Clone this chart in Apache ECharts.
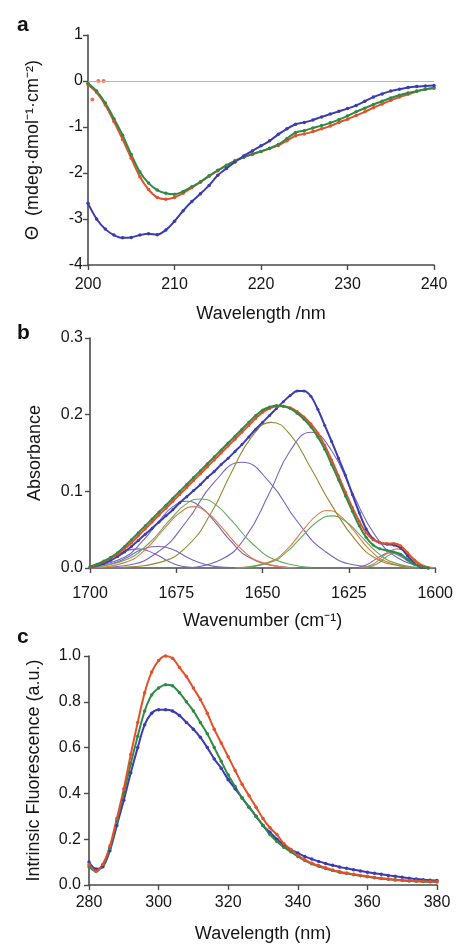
<!DOCTYPE html>
<html><head><meta charset="utf-8">
<script src="https://cdn.jsdelivr.net/npm/echarts@6/dist/echarts.min.js"></script>
<style>html,body{margin:0;padding:0;background:#fff}#c{width:456px;height:944px}</style>
</head><body><div id="c"></div>
<script>
// ---------- Panel a : CD spectra ----------
const aWl = [200,201,202,203,204,205,206,207,208,209,210,211,212,213,214,215,216,217,218,219,220,221,222,223,224,225,226,227,228,229,230,231,232,233,234,235,236,237,238,239,240];
const aRed = [-0.08,-0.25,-0.52,-0.88,-1.27,-1.68,-2.08,-2.36,-2.53,-2.57,-2.53,-2.44,-2.32,-2.20,-2.07,-1.95,-1.83,-1.73,-1.65,-1.59,-1.53,-1.47,-1.40,-1.30,-1.19,-1.15,-1.10,-1.04,-0.98,-0.90,-0.83,-0.75,-0.67,-0.58,-0.50,-0.42,-0.35,-0.29,-0.23,-0.18,-0.15];
const aGreen = [-0.05,-0.22,-0.48,-0.82,-1.18,-1.60,-1.98,-2.22,-2.37,-2.44,-2.46,-2.40,-2.30,-2.19,-2.06,-1.94,-1.84,-1.74,-1.66,-1.59,-1.53,-1.46,-1.38,-1.25,-1.12,-1.08,-1.02,-0.97,-0.91,-0.84,-0.76,-0.67,-0.59,-0.51,-0.44,-0.37,-0.31,-0.26,-0.22,-0.18,-0.15];
const aBlue = [-2.66,-3.00,-3.22,-3.35,-3.41,-3.40,-3.35,-3.32,-3.34,-3.24,-3.05,-2.82,-2.62,-2.45,-2.27,-2.05,-1.90,-1.76,-1.63,-1.52,-1.41,-1.30,-1.16,-1.04,-0.94,-0.90,-0.85,-0.78,-0.72,-0.66,-0.60,-0.53,-0.44,-0.35,-0.28,-0.22,-0.18,-0.14,-0.12,-0.11,-0.10];
const aRedStray = [[200.5,-0.40],[201.2,0.0],[201.8,0.0]];
const aTicksX = [200,240,10];
const aTicksY = [-4,1,1];

// ---------- Panel b : FTIR amide I ----------
const bWn = [1700,1698,1696,1694,1692,1690,1688,1686,1684,1682,1680,1678,1676,1674,1672,1670,1668,1666,1664,1662,1660,1658,1656,1654,1652,1650,1648,1646,1644,1642,1640,1638,1636,1634,1632,1630,1628,1626,1624,1622,1620,1618,1616,1614,1612,1610,1608,1606,1604,1602];
const bGreen = [0.002,0.005,0.009,0.014,0.020,0.028,0.037,0.046,0.055,0.064,0.073,0.082,0.091,0.100,0.109,0.118,0.127,0.136,0.145,0.154,0.163,0.172,0.181,0.190,0.199,0.206,0.210,0.212,0.211,0.208,0.202,0.194,0.184,0.171,0.155,0.135,0.115,0.094,0.074,0.055,0.040,0.030,0.025,0.023,0.021,0.018,0.011,0.005,0.002,0.000];
const bRed = [0.001,0.004,0.008,0.013,0.018,0.025,0.033,0.042,0.051,0.060,0.069,0.078,0.087,0.096,0.105,0.114,0.123,0.132,0.141,0.150,0.159,0.168,0.177,0.186,0.195,0.203,0.208,0.211,0.211,0.209,0.204,0.197,0.188,0.176,0.160,0.141,0.120,0.099,0.079,0.061,0.046,0.037,0.033,0.032,0.032,0.029,0.020,0.010,0.003,0.000];
const bBlue = [0.001,0.003,0.006,0.010,0.015,0.021,0.028,0.036,0.044,0.052,0.060,0.068,0.076,0.085,0.093,0.101,0.109,0.118,0.126,0.135,0.143,0.152,0.161,0.171,0.181,0.190,0.199,0.208,0.217,0.225,0.231,0.231,0.224,0.207,0.186,0.165,0.143,0.121,0.096,0.072,0.051,0.038,0.033,0.031,0.030,0.026,0.016,0.006,0.001,0.000];
// fitted components [wavenumber, absorbance]
const compPurple1 = [[1700,0.002],[1696,0.008],[1692,0.018],[1686,0.025],[1681,0.018],[1677,0.008],[1673,0.002],[1666,0.000]];
const compPurple2 = [[1700,0.001],[1695,0.004],[1690,0.012],[1685,0.024],[1680,0.028],[1676,0.024],[1671,0.012],[1666,0.004],[1661,0.001],[1654,0.000]];
const compPurple3 = [[1700,0.001],[1690,0.014],[1685,0.034],[1680,0.061],[1676,0.080],[1672,0.087],[1668,0.080],[1664,0.061],[1659,0.034],[1654,0.014],[1645,0.002],[1638,0.000]];
const compPurple4 = [[1700,0.000],[1690,0.003],[1680,0.022],[1672,0.061],[1664,0.112],[1656,0.138],[1648,0.112],[1640,0.061],[1632,0.022],[1622,0.003],[1612,0.000]];
const compPurple5 = [[1672,0.000],[1662,0.011],[1655,0.040],[1648,0.098],[1642,0.153],[1636,0.177],[1630,0.153],[1624,0.098],[1617,0.040],[1610,0.011],[1602,0.001]];
const compPurple6 = [[1624,0.000],[1620,0.004],[1616,0.015],[1613,0.020],[1610,0.015],[1606,0.004],[1601,0.000]];
const compOrange1 = [[1700,0.000],[1690,0.007],[1684,0.024],[1678,0.054],[1674,0.072],[1670,0.080],[1666,0.072],[1662,0.054],[1656,0.024],[1650,0.007],[1640,0.000]];
const compOrange2 = [[1658,0.000],[1648,0.008],[1643,0.024],[1638,0.051],[1634,0.070],[1631,0.075],[1628,0.070],[1624,0.051],[1619,0.024],[1614,0.008],[1606,0.000]];
const compOrange3 = [[1622,0.000],[1618,0.005],[1614,0.019],[1611,0.025],[1608,0.019],[1604,0.005],[1600,0.000]];
const compGreen1 = [[1700,0.001],[1690,0.010],[1683,0.032],[1677,0.062],[1672,0.084],[1668,0.090],[1664,0.084],[1659,0.062],[1653,0.032],[1646,0.010],[1636,0.001]];
const compGreen2 = [[1658,0.000],[1648,0.007],[1643,0.021],[1638,0.044],[1634,0.061],[1630,0.068],[1626,0.061],[1622,0.044],[1617,0.021],[1612,0.007],[1605,0.001]];
const compGreen3 = [[1621,0.000],[1617,0.005],[1614,0.015],[1612,0.019],[1609,0.015],[1605,0.004],[1601,0.000]];
const compOlive = [[1695,0.000],[1690,0.001],[1680,0.007],[1672,0.028],[1665,0.071],[1659,0.125],[1653,0.172],[1647.5,0.190],[1642,0.174],[1636,0.130],[1630,0.082],[1623,0.036],[1617,0.012],[1610,0.003],[1603,0.000]];

// ---------- Panel c : intrinsic fluorescence ----------
const cWl = [280,282,284,286,288,290,292,294,296,298,300,302,304,306,308,310,312,314,316,318,320,322,324,326,328,330,332,334,336,338,340,342,344,346,348,350,352,354,356,358,360,362,364,366,368,370,372,374,376,378,380];
const cRed = [0.09,0.06,0.09,0.17,0.29,0.42,0.57,0.71,0.84,0.93,0.98,1.00,0.99,0.95,0.91,0.86,0.81,0.75,0.68,0.62,0.56,0.50,0.44,0.39,0.34,0.29,0.25,0.22,0.18,0.155,0.13,0.11,0.095,0.085,0.075,0.065,0.058,0.052,0.047,0.042,0.038,0.033,0.029,0.026,0.023,0.021,0.019,0.017,0.016,0.015,0.015];
const cGreen = [0.08,0.06,0.09,0.16,0.28,0.40,0.53,0.65,0.76,0.83,0.86,0.875,0.87,0.84,0.80,0.76,0.71,0.66,0.60,0.54,0.48,0.43,0.38,0.34,0.30,0.26,0.22,0.19,0.165,0.145,0.125,0.107,0.093,0.082,0.072,0.063,0.056,0.050,0.045,0.040,0.036,0.032,0.028,0.025,0.022,0.020,0.018,0.016,0.015,0.014,0.013];
const cBlue = [0.10,0.07,0.08,0.15,0.26,0.37,0.49,0.60,0.70,0.75,0.765,0.765,0.76,0.74,0.71,0.68,0.645,0.60,0.55,0.51,0.46,0.42,0.38,0.34,0.30,0.26,0.23,0.20,0.175,0.155,0.14,0.125,0.113,0.103,0.094,0.086,0.079,0.073,0.067,0.061,0.056,0.051,0.047,0.042,0.038,0.034,0.030,0.026,0.023,0.021,0.020];

const RED = '#e4502c', GREEN = '#2f8a45', BLUE = '#3a3cb0';
const PURPLE = '#7565c0', ORANGE = '#e77a45', LGREEN = '#5fae5a', OLIVE = '#9a8735';
const FONT = '"Liberation Sans", Arial, sans-serif';

const zip = (xs, ys) => xs.map((x, i) => [x, ys[i]]);

const axisCommon = {
  axisLine: { onZero: false, lineStyle: { color: '#4a4a4a', width: 1.6 } },
  axisTick: { length: 5, lineStyle: { color: '#4a4a4a', width: 1.4 } },
  splitLine: { show: false },
  nameTextStyle: { color: '#151515', fontSize: 18, fontFamily: FONT },
  nameLocation: 'middle'
};
function lbl(margin, fmt) {
  const o = { color: '#151515', fontSize: 16, fontFamily: FONT, margin: margin };
  if (fmt) o.formatter = fmt;
  return o;
}
function xAx(grid, r, name, margin, extra) {
  return Object.assign({}, axisCommon, { type: 'value', gridIndex: grid, min: r[0], max: r[1], interval: r[2],
    name: name, nameGap: 40, axisLabel: lbl(margin, v => String(v)) }, extra || {});
}
function yAx(grid, r, name, margin, fmt) {
  return Object.assign({}, axisCommon, { type: 'value', gridIndex: grid, min: r[0], max: r[1], interval: r[2],
    name: name, nameGap: 46, axisLabel: lbl(margin, fmt) });
}
function mainLine(idx, data, color, size) {
  return { type: 'line', xAxisIndex: idx, yAxisIndex: idx, data: data, smooth: 0.3,
    symbol: 'circle', symbolSize: size || 3.5, showSymbol: true,
    lineStyle: { color: color, width: 2 }, itemStyle: { color: color }, z: 5, silent: true, animation: false };
}
function comp(data, color) {
  return { type: 'line', xAxisIndex: 1, yAxisIndex: 1, data: data, smooth: 0.5, showSymbol: false,
    lineStyle: { color: color, width: 1.1 }, z: 3, silent: true, animation: false };
}

const option = {
  backgroundColor: '#fff',
  animation: false,
  title: [
    { text: 'a', left: 12, top: 10, textStyle: { fontSize: 21, fontWeight: 'bold', color: '#111', fontFamily: FONT } },
    { text: 'b', left: 12, top: 318, textStyle: { fontSize: 21, fontWeight: 'bold', color: '#111', fontFamily: FONT } },
    { text: 'c', left: 12, top: 622, textStyle: { fontSize: 21, fontWeight: 'bold', color: '#111', fontFamily: FONT } }
  ],
  grid: [
    { left: 88, right: 22, top: 35, height: 230, containLabel: false },
    { left: 90, right: 19, top: 338, height: 230, containLabel: false },
    { left: 89, right: 19, top: 656, height: 231, containLabel: false }
  ],
  xAxis: [
    xAx(0, aTicksX, 'Wavelength /nm', 12),
    xAx(1, [1600, 1700, 25], 'Wavenumber (cm⁻¹)', 18, { inverse: true, nameGap: 44 }),
    xAx(2, [280, 380, 20], 'Wavelength (nm)', 10)
  ],
  yAxis: [
    yAx(0, aTicksY, 'Θ  (mdeg·dmol⁻¹·cm⁻²)', 5),
    yAx(1, [0, 0.3, 0.1], 'Absorbance', 7, v => v.toFixed(1)),
    yAx(2, [0, 1, 0.2], 'Intrinsic Fluorescence (a.u.)', 8, v => v.toFixed(1))
  ],
  series: [
    // panel a
    Object.assign(mainLine(0, zip(aWl, aRed), RED), {
      markLine: { silent: true, symbol: 'none', label: { show: false },
        lineStyle: { color: '#b5b5b5', width: 1.2, type: 'solid' }, data: [{ yAxis: 0 }] } }),
    { type: 'scatter', xAxisIndex: 0, yAxisIndex: 0, data: aRedStray, symbolSize: 4, itemStyle: { color: RED }, silent: true },
    mainLine(0, zip(aWl, aGreen), GREEN),
    mainLine(0, zip(aWl, aBlue), BLUE),
    // panel b components
    comp(compPurple1, PURPLE), comp(compPurple2, PURPLE), comp(compPurple3, PURPLE),
    comp(compPurple4, PURPLE), comp(compPurple5, PURPLE), comp(compPurple6, PURPLE),
    comp(compOrange1, ORANGE), comp(compOrange2, ORANGE), comp(compOrange3, ORANGE),
    comp(compGreen1, LGREEN), comp(compGreen2, LGREEN), comp(compGreen3, LGREEN),
    comp(compOlive, OLIVE),
    // panel b spectra
    mainLine(1, zip(bWn, bBlue), BLUE, 3),
    mainLine(1, zip(bWn, bRed), RED, 3),
    mainLine(1, zip(bWn, bGreen), GREEN, 3),
    // panel c
    mainLine(2, zip(cWl, cBlue), BLUE),
    mainLine(2, zip(cWl, cGreen), GREEN),
    mainLine(2, zip(cWl, cRed), RED)
  ]
};
const chart = echarts.init(document.getElementById('c'), null, { renderer: 'canvas' });
chart.setOption(option);
</script>
</body></html>
